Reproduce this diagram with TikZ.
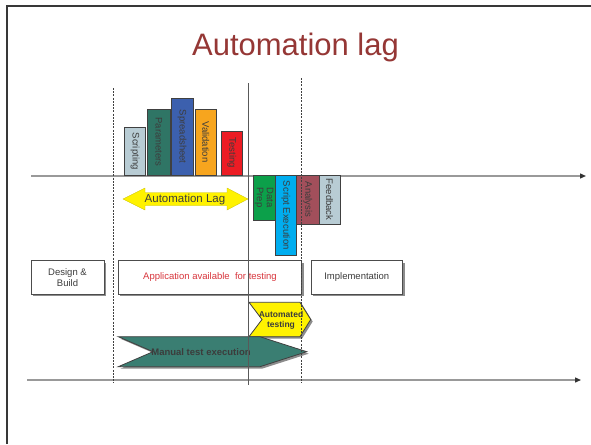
\documentclass[tikz,border=0pt]{standalone}
\usepackage{fontspec}
\setmainfont{Liberation Sans}
\usetikzlibrary{arrows.meta,shadows}
\definecolor{titlered}{HTML}{953735}
\definecolor{barscr}{HTML}{B8CCD4}
\definecolor{barpar}{HTML}{2F7565}
\definecolor{barspr}{HTML}{3C60AE}
\definecolor{barval}{HTML}{F7A51E}
\definecolor{bartst}{HTML}{EC1C24}
\definecolor{bardata}{HTML}{0CA04A}
\definecolor{barscript}{HTML}{00ADEF}
\definecolor{barana}{HTML}{A24F5B}
\definecolor{lagyellow}{HTML}{FFF200}
\definecolor{manteal}{HTML}{3A7E72}
\definecolor{apred}{HTML}{D8353C}
\definecolor{txtgray}{HTML}{3C3C3C}
\begin{document}
\begin{tikzpicture}[x=1pt,y=-1pt,
  bar/.style={draw=black!75, line width=0.8pt, rotate=-90, inner sep=0pt,
    font=\fontsize{9.5}{10}\selectfont, text=txtgray, align=center},
  box/.style={draw=black!70, line width=0.8pt, fill=white, inner sep=0pt, align=center,
    font=\fontsize{9.5}{11}\selectfont, text=txtgray, minimum height=33.3pt,
    drop shadow={shadow xshift=2pt, shadow yshift=-2pt, fill=black!45, opacity=1}},
  axisline/.style={draw=black!40, line width=1.3pt, -{Triangle[length=6pt,width=5pt,color=black!80]}},
  guide/.style={draw=black!75, line width=0.6pt, dash pattern=on 2pt off 1.2pt},
  chev/.style={draw=black!75, line width=0.8pt,
    drop shadow={shadow xshift=2pt, shadow yshift=-2pt, fill=black!45, opacity=1}},
  lbl/.style={inner sep=0pt, text=txtgray, align=center}
]
\useasboundingbox (0,0) rectangle (591,444);
% frame
\coordinate (fbl) at (7,444);
\coordinate (ftl) at (7,6);
\coordinate (ftr) at (591,6);
\draw[black!78, line width=2.6pt] (fbl) -- (ftl) -- (ftr);
% title
\node[text=titlered, font=\fontsize{31}{34}\selectfont, inner sep=0pt] (title) at (295.5,47) {Automation lag};
% axes
\coordinate (a1s) at (31,176); \coordinate (a1e) at (586,176);
\coordinate (a2s) at (27,380); \coordinate (a2e) at (581,380);
\draw[axisline] (a1s) -- (a1e);
\draw[axisline] (a2s) -- (a2e);
% upper bars
\node[bar, fill=barscr, minimum width=47.7pt, minimum height=21.5pt] (scr) at (135,151.2) {Scripting};
\node[bar, fill=barpar, minimum width=66pt, minimum height=22.3pt] (par) at (158.8,142) {Parameters};
\node[bar, fill=barspr, minimum width=76.7pt, minimum height=22.3pt] (spr) at (182.2,136.7) {Spreadsheet};
\node[bar, fill=barval, minimum width=66pt, minimum height=21.7pt] (val) at (205.8,142) {Validation};
\node[bar, fill=bartst, minimum width=44pt, minimum height=21.7pt] (tst) at (231.8,153) {Testing};
% lower bars
\node[bar, fill=bardata, minimum width=45pt, minimum height=21.7pt] (dat) at (264.2,197.5) {Data\\Prep};
\node[bar, fill=barscript, minimum width=80.7pt, minimum height=21.7pt] (sex) at (285.8,215.3) {Script Execution};
\node[bar, fill=barana, minimum width=49pt, minimum height=22.3pt] (ana) at (307.8,199.5) {Analysis};
\node[bar, fill=barscr, minimum width=49pt, minimum height=21pt] (fb) at (329.5,199.5) {Feedback};
% automation lag double arrow
\fill[lagyellow, draw=lagyellow!80!black, line width=0.3pt]
  (123,199) -- (145,188) -- (145,192.5) -- (227,192.5) -- (227,188) -- (248,199)
  -- (227,210) -- (227,205.5) -- (145,205.5) -- (145,210) -- cycle;
\node[lbl, font=\fontsize{11.5}{12}\selectfont] (lag) at (185,199.5) {Automation Lag};
% boxes
\node[box, minimum width=73pt] (des) at (67.5,277.3) {Design \&\\Build};
\node[box, minimum width=183.4pt, text=apred] (app) at (210,277.3) {Application available\ \ for testing};
\node[box, minimum width=91.7pt] (imp) at (356.8,277.3) {Implementation};
% chevrons
\path[chev, fill=lagyellow] (249,302.3) -- (300,302.3) -- (310.7,319.5) -- (300,336.7) -- (249,336.7) -- (262,319.5) -- cycle;
\node[lbl, font=\fontsize{8.5}{10}\selectfont\bfseries] (aut) at (281,320) {Automated\\testing};
\path[chev, fill=manteal] (118.3,336.7) -- (260,336.7) -- (306.7,351.7) -- (260,366.7) -- (118.3,366.7) -- (153,351.7) -- cycle;
\node[lbl, font=\fontsize{9.5}{10}\selectfont\bfseries] (man) at (201,352) {Manual test execution};
% guides
\coordinate (g1t) at (113,88); \coordinate (g1b) at (113,383);
\coordinate (g2t) at (301,78); \coordinate (g2b) at (301,383);
\coordinate (g3t) at (248,83); \coordinate (g3b) at (248,385);
\draw[guide] (g1t) -- (g1b);
\draw[guide] (g2t) -- (g2b);
\draw[black!65, line width=1pt] (g3t) -- (g3b);
\end{tikzpicture}
\end{document}
